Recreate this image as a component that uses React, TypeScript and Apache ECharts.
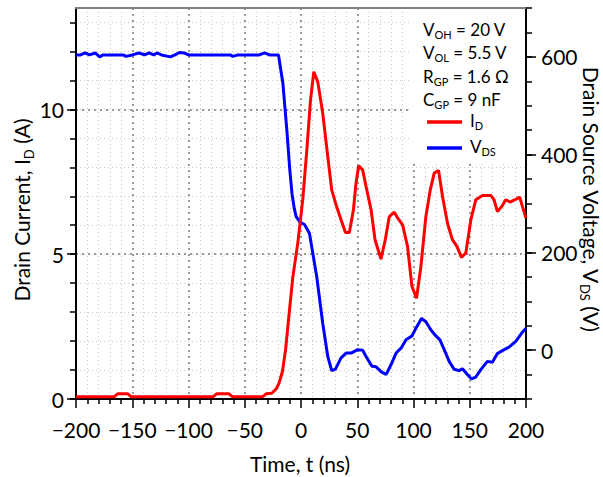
import React, { useEffect, useRef } from 'react';
import * as echarts from 'echarts';

// ---- data ----
const idTimes = [-200, -166, -163, -154, -151, -78, -75, -64, -61, -34, -31, -26, -22, -19.5, -16.5, -13.7, -10.8, -7.3, -2.8, 1.6, 5.2, 8.4, 11.4, 14.9, 19.3, 23.8, 27.3, 31.2, 35.6, 39.5, 43, 46.6, 48.9, 51.3, 54.8, 57.8, 62.3, 65.8, 71.1, 74.9, 78.5, 82.9, 85.9, 90.3, 94.7, 98.6, 102.7, 106.6, 111, 114.9, 118.4, 122.3, 125.8, 130.2, 134.6, 138.6, 142.6, 146.5, 151, 155.4, 161.3, 168.7, 171.6, 174.6, 178.5, 182, 185.8, 190.3, 194.4, 196.8, 200];
const idAmps = [0.08, 0.08, 0.18, 0.18, 0.08, 0.08, 0.18, 0.18, 0.08, 0.08, 0.18, 0.2, 0.35, 0.55, 0.95, 1.7, 2.85, 4.2, 5.4, 6.9, 8.6, 10.3, 11.3, 10.95, 9.87, 8.37, 7.22, 6.7, 6.19, 5.75, 5.75, 6.53, 7.45, 8.05, 7.91, 7.34, 6.53, 5.5, 4.83, 5.5, 6.3, 6.45, 6.25, 6.01, 5.27, 3.89, 3.48, 4.58, 6.3, 7.22, 7.8, 7.89, 6.99, 6.07, 5.5, 5.27, 4.89, 5.04, 6.19, 6.88, 7.03, 7.03, 6.88, 6.47, 6.65, 6.88, 6.8, 6.88, 6.97, 6.65, 6.25];

const vdsTimes = [-200, -196, -192, -188, -183, -179, -176, -158, -155.7, -150, -144, -139, -135, -131, -128, -124, -116, -112, -108, -104, -100, -63, -60.7, -56, -37, -32.4, -28, -20, -16.1, -12.5, -10, -8, -6, -4.3, -1, 3.1, 7.5, 14, 19.3, 23.8, 27.3, 30.6, 35.6, 40.1, 44.5, 50.4, 54.8, 57.8, 63.1, 66.7, 71.1, 75.6, 80, 84.5, 88.9, 93.3, 98.6, 102.2, 107.2, 111, 115.5, 119.9, 123.5, 127.3, 131.7, 136.1, 140.6, 143.5, 147.9, 151.5, 155.4, 159.8, 165.7, 170.1, 174.6, 179, 184.9, 190.9, 196.2, 200];
const vdsVolts = [604, 604, 608, 604, 608, 600, 604, 604, 601, 604, 608, 604, 608, 604, 608, 604, 600, 604, 609, 608, 604, 604, 601, 604, 604, 608, 604, 604, 546, 448, 370, 320, 290, 273, 262, 257, 239, 150, 55, -13, -42, -39, -16, -6, -6, 1, 0, -13, -33, -34, -44, -50, -30, -6, 4, 21, 29, 45, 65, 58, 41, 29, 21, 1, -23, -39, -42, -38, -50, -59, -55, -40, -23, -25, -7, -1, 6, 18, 35, 45];

const xLimits = [-200, 200];
const currentLimits = [0, 13.5];
const voltageLimits = [-100, 700];
const currentMajorTicks = [0, 5, 10];
const currentMinorTicks = [0, 1, 2, 3, 4, 5, 6, 7, 8, 9, 10, 11, 12, 13];
const voltageMajorTicks = [0, 200, 400, 600];

const paramSymbols = ['V', 'V', 'R', 'C'];
const paramSubs = ['OH', 'OL', 'GP', 'GP'];
const paramValues = [' = 20 V', ' = 5.5 V', ' = 1.6 Ω', ' = 9 nF'];

const FONT = "Lato, 'DejaVu Sans', sans-serif";

export default function App() {
  const ref = useRef<HTMLDivElement>(null);
  useEffect(() => {
    if (!ref.current) return;
    const chart = echarts.init(ref.current, undefined, { renderer: 'svg' });

    const minorGrid = { show: true, lineStyle: { color: '#c8c8c8', width: 1, type: [1, 3] } };
    const majorGrid = { show: true, lineStyle: { color: '#9a9a9a', width: 2, type: [2, 4] } };
    const black = { color: '#000', width: 2 };

    const titleRich = {
      m: { fontSize: 21, lineHeight: 22, verticalAlign: 'top', fontFamily: FONT, fill: '#000', color: '#000' },
      s: { fontSize: 13, lineHeight: 13, padding: [11, 0, 0, 0], verticalAlign: 'top', fontFamily: FONT, fill: '#000', color: '#000' },
    };
    const legRich = {
      m: { fontSize: 17, lineHeight: 20, verticalAlign: 'top', fontFamily: FONT, color: '#000', fill: '#000' },
      s: { fontSize: 11, lineHeight: 11, padding: [8, 0, 0, 0], verticalAlign: 'top', fontFamily: FONT, color: '#000', fill: '#000' },
    };
    const legRichPad = {
      ...legRich,
      m0: { ...legRich.m, padding: [0, 0, 0, 3] },
    };

    const paramTexts = paramSymbols.map((sym, i) => ({
      type: 'text',
      x: 423,
      y: 31 + i * 23.3,
      z: 5,
      style: {
        text: `{m|${sym}}{s|${paramSubs[i]}}{m|${paramValues[i]}}`,
        rich: legRich,
        align: 'left',
        verticalAlign: 'middle',
        fill: '#000',
      },
    }));

    const option: any = {
      animation: false,
      textStyle: { fontFamily: FONT },
      grid: { left: 76, right: 77, top: 8, bottom: 78 },
      xAxis: [
        {
          type: 'value', min: xLimits[0], max: xLimits[1], interval: 50, position: 'bottom',
          axisLine: { show: true, onZero: false, lineStyle: black },
          axisTick: { show: true, length: 9, lineStyle: { color: '#000', width: 1.5 } },
          minorTick: { show: true, splitNumber: 5, length: 5, lineStyle: { color: '#000', width: 1.5 } },
          axisLabel: {
            fontSize: 21, color: '#000', margin: 20, fontFamily: FONT,
            formatter: (v: number) => (v < 0 ? '\u2212' + Math.abs(v) : String(v)),
          },
          splitLine: majorGrid,
          minorSplitLine: minorGrid,
        },
        {
          type: 'value', min: xLimits[0], max: xLimits[1], position: 'top',
          axisLine: { show: true, onZero: false, lineStyle: { color: '#808080', width: 2 } },
          axisTick: { show: false }, axisLabel: { show: false }, splitLine: { show: false },
        },
      ],
      yAxis: [
        {
          type: 'value', min: currentLimits[0], max: currentLimits[1], interval: 1, position: 'left',
          axisLine: { show: true, onZero: false, lineStyle: black },
          axisTick: { show: true, length: 6, customValues: currentMinorTicks, lineStyle: { color: '#000', width: 1.5 } },
          axisLabel: {
            fontSize: 21, color: '#000', margin: 12, fontFamily: FONT,
            formatter: (v: number) => (currentMajorTicks.includes(v) ? String(v) : ''),
          },
          splitLine: minorGrid,
        },
        {
          type: 'value', min: voltageLimits[0], max: voltageLimits[1], interval: 50, position: 'right',
          axisLine: { show: true, onZero: false, lineStyle: black },
          axisTick: { show: true, length: 6, lineStyle: { color: '#000', width: 1.5 } },
          axisLabel: {
            fontSize: 21, color: '#000', margin: 15, fontFamily: FONT,
            formatter: (v: number) => (voltageMajorTicks.includes(v) ? String(v) : ''),
          },
          splitLine: { show: false },
        },
        {
          type: 'value', min: currentLimits[0], max: currentLimits[1], interval: 5, position: 'left',
          axisLine: { show: false, onZero: false },
          axisTick: { show: true, length: 9, customValues: currentMajorTicks, lineStyle: { color: '#000', width: 1.5 } },
          axisLabel: { show: false },
          splitLine: majorGrid,
        },
        {
          type: 'value', min: voltageLimits[0], max: voltageLimits[1], interval: 50, position: 'right',
          axisLine: { show: false, onZero: false },
          axisTick: { show: true, length: 10, customValues: voltageMajorTicks, lineStyle: { color: '#000', width: 1.5 } },
          axisLabel: { show: false },
          splitLine: { show: false },
        },
      ],
      legend: {
        show: true,
        orient: 'vertical',
        left: 422,
        top: 107,
        itemWidth: 35,
        itemHeight: 3.5,
        itemGap: 7,
        icon: 'rect',
        selectedMode: false,
        data: ['I_D', 'V_DS'],
        textStyle: { rich: legRichPad, color: '#000' },
        formatter: (name: string) => (name === 'I_D' ? '{m0|I}{s|D}' : '{m0|V}{s|DS}'),
      },
      graphic: [
        { type: 'rect', z: 1, shape: { x: 411, y: 9, width: 114, height: 152 }, style: { fill: '#fff' } },
        ...paramTexts,
        {
          type: 'text', x: 22, y: 210, rotation: Math.PI / 2, z: 5,
          style: { text: '{m|Drain Current, I}{s|D}{m| (A)}', rich: titleRich, align: 'center', verticalAlign: 'middle', fill: '#000' },
        },
        {
          type: 'text', x: 591, y: 199, rotation: -Math.PI / 2, z: 5,
          style: { text: '{m|Drain Source Voltage, V}{s|DS}{m| (V)}', rich: titleRich, align: 'center', verticalAlign: 'middle', fill: '#000' },
        },
        {
          type: 'text', x: 300, y: 463, z: 5,
          style: { text: 'Time, t (ns)', font: `21px ${FONT}`, align: 'center', verticalAlign: 'middle', fill: '#000' },
        },
      ],
      series: [
        {
          name: 'V_DS', type: 'line', xAxisIndex: 0, yAxisIndex: 1, showSymbol: false, symbol: 'none',
          color: '#0000ff', lineStyle: { width: 3, color: '#0000ff' },
          data: vdsTimes.map((t, i) => [t, vdsVolts[i]]),
        },
        {
          name: 'I_D', type: 'line', xAxisIndex: 0, yAxisIndex: 0, showSymbol: false, symbol: 'none',
          color: '#ff0000', lineStyle: { width: 3, color: '#ff0000' },
          data: idTimes.map((t, i) => [t, idAmps[i]]),
        },
      ],
    };
    chart.setOption(option);
    return () => chart.dispose();
  }, []);
  return <div ref={ref} style={{ position: 'absolute', left: 0, top: 0, width: 603, height: 477, background: '#fff' }} />;
}
